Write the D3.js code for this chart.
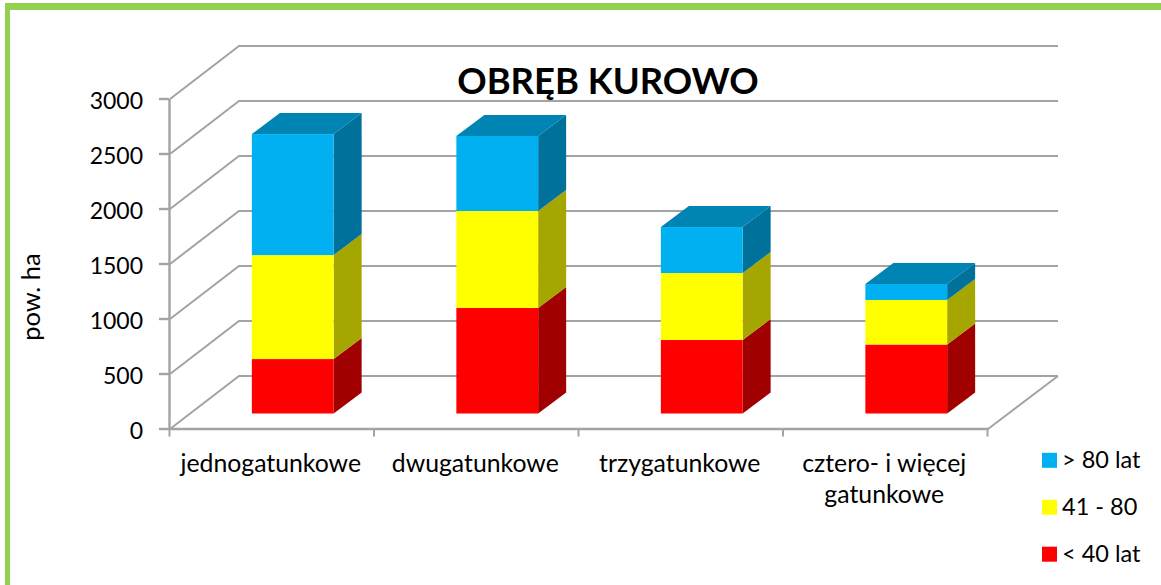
<!DOCTYPE html>
<html>
<head>
<meta charset="utf-8">
<script src="https://cdn.jsdelivr.net/npm/d3@7"></script>
<style>
  html, body { margin: 0; padding: 0; background: #fff; }
  svg { display: block; }
  text { font-family: Lato, "Open Sans", sans-serif; fill: #000; }
</style>
</head>
<body>
<script>
'use strict'

const categories = ['jednogatunkowe', 'dwugatunkowe', 'trzygatunkowe', 'cztero- i więcej\ngatunkowe']
const seriesNames = ['< 40 lat', '41 - 80', '> 80 lat']
const youngValues = [495, 959, 668, 627]
const middleValues = [945, 882, 609, 405]
const oldValues = [1100, 682, 418, 145]
const yTicks = [0, 500, 1000, 1500, 2000, 2500, 3000]
const chartTitle = 'OBRĘB KUROWO'
const yTitle = 'pow. ha'

const colors = {
  '< 40 lat': { front: '#ff0000', side: '#a00000', top: '#c00000' },
  '41 - 80': { front: '#ffff00', side: '#a6a600', top: '#c8c800' },
  '> 80 lat': { front: '#00b0f0', side: '#00719b', top: '#0084b4' }
}

const width = 1161
const height = 585
const gridColor = '#a3a3a3'

const x = d3.scaleBand().domain(categories).range([170, 988]).paddingInner(0).paddingOuter(0)
const y = d3.scaleLinear().domain([0, 3000]).range([429, 99])

// oblique offset of the back wall, and of a bar's depth
const wallDx = 69
const wallDy = -53
const barDx = 28
const barDy = -21
const barWidth = x.bandwidth() * 0.4

const svg = d3.select('body').append('svg').attr('width', width).attr('height', height)

// green frame, top and left only
svg.append('rect').attr('x', 5).attr('y', 3).attr('width', width - 5).attr('height', 7).attr('fill', '#92d050')
svg.append('rect').attr('x', 5).attr('y', 3).attr('width', 5).attr('height', height - 3).attr('fill', '#92d050')

// back wall lines and the slanted lines running to them
const wall = svg.append('g').attr('fill', 'none').attr('stroke', gridColor).attr('stroke-width', 2)
wall.selectAll('.grid')
  .data(yTicks)
  .enter()
  .append('polyline')
  .attr('class', 'grid')
  .attr('points', d => {
    const x0 = x.range()[0]
    const x1 = x.range()[1]
    return [[x0, y(d)], [x0 + wallDx, y(d) + wallDy], [x1 + wallDx + 1, y(d) + wallDy]].join(' ')
  })
wall.append('line')
  .attr('x1', x.range()[1]).attr('y1', y(0))
  .attr('x2', x.range()[1] + wallDx + 1).attr('y2', y(0) + wallDy)

// axes
const yAxis = svg.append('g')
  .attr('transform', `translate(${x.range()[0] - 1},-0.5)`)
  .call(d3.axisLeft(y).tickValues(yTicks).tickFormat(d3.format('d')).tickSize(10).tickSizeOuter(0).tickPadding(16))
const xAxis = svg.append('g')
  .attr('transform', `translate(0,${y(0) - 0.5})`)
  .call(d3.axisBottom(x).tickValues([]).tickSizeOuter(0))

for (const axis of [yAxis, xAxis]) {
  axis.selectAll('path, line').attr('stroke', gridColor).attr('stroke-width', 2.4)
}
yAxis.selectAll('text').style('font-size', '23px').attr('dy', '0.43em').attr('fill', '#000')

// x ticks sit on the band edges, not the band centres
xAxis.selectAll('.edge')
  .data(categories.map(c => x(c)).concat(x.range()[1]))
  .enter()
  .append('line')
  .attr('class', 'edge')
  .attr('x1', d => d - 0.5).attr('x2', d => d - 0.5)
  .attr('y1', 0).attr('y2', 8)
  .attr('stroke', gridColor).attr('stroke-width', 2)

const catLabels = svg.append('g').selectAll('text')
  .data(categories)
  .enter()
  .append('text')
  .attr('text-anchor', 'middle')
  .style('font-size', '24.8px')
catLabels.selectAll('tspan')
  .data(d => d.split('\n').map(line => ({ line, cat: d })))
  .enter()
  .append('tspan')
  .attr('x', d => x(d.cat) + x.bandwidth() / 2 - 1.5)
  .attr('y', (d, i) => 472 + i * 31)
  .text(d => d.line)

// stacked bars
const rows = categories.map((c, i) => ({
  category: c,
  [seriesNames[0]]: youngValues[i],
  [seriesNames[1]]: middleValues[i],
  [seriesNames[2]]: oldValues[i]
}))
const stacked = d3.stack().keys(seriesNames)(rows)

const barLeft = d => x(d.data.category) + (x.bandwidth() - barWidth) / 2 + (wallDx - barDx) / 2
const barY = v => y(v) + (wallDy - barDy) / 2 + 0.5

const barGroups = svg.append('g').selectAll('g')
  .data(stacked)
  .enter()
  .append('g')
  .attr('class', s => `series-${s.index}`)

barGroups.selectAll('.side')
  .data(s => s)
  .enter()
  .append('polygon')
  .attr('class', 'side')
  .attr('fill', function () { return colors[d3.select(this.parentNode).datum().key].side })
  .attr('points', d => {
    const r = barLeft(d) + barWidth
    return [[r, barY(d[0])], [r + barDx, barY(d[0]) + barDy], [r + barDx, barY(d[1]) + barDy], [r, barY(d[1])]].join(' ')
  })

barGroups.selectAll('.front')
  .data(s => s)
  .enter()
  .append('rect')
  .attr('class', 'front')
  .attr('fill', function () { return colors[d3.select(this.parentNode).datum().key].front })
  .attr('x', barLeft)
  .attr('y', d => barY(d[1]))
  .attr('width', barWidth)
  .attr('height', d => barY(d[0]) - barY(d[1]))

// only the topmost series shows its lid
svg.append('g').selectAll('polygon')
  .data(stacked[stacked.length - 1])
  .enter()
  .append('polygon')
  .attr('fill', colors[seriesNames[2]].top)
  .attr('points', d => {
    const l = barLeft(d)
    const t = barY(d[1])
    return [[l, t], [l + barDx, t + barDy], [l + barWidth + barDx, t + barDy], [l + barWidth, t]].join(' ')
  })

// title and y axis title
svg.append('text')
  .attr('x', 608).attr('y', 94)
  .attr('text-anchor', 'middle')
  .style('font-size', '36.4px').style('font-weight', 700)
  .text(chartTitle)

svg.append('text')
  .attr('transform', 'translate(40,297) rotate(-90)')
  .attr('text-anchor', 'middle')
  .style('font-size', '25.5px')
  .text(yTitle)

// legend, top entry is the last series
const legendY = d3.scalePoint().domain(seriesNames.slice().reverse()).range([460.3, 554.2])
const legend = svg.append('g').selectAll('g')
  .data(seriesNames)
  .enter()
  .append('g')
  .attr('transform', d => `translate(1042,${legendY(d)})`)
legend.append('rect')
  .attr('y', -7.5).attr('width', 15).attr('height', 15)
  .attr('fill', d => colors[d].front)
legend.append('text')
  .attr('x', 20).attr('y', 7.5)
  .style('font-size', '23.5px')
  .text(d => d)
</script>
</body>
</html>
